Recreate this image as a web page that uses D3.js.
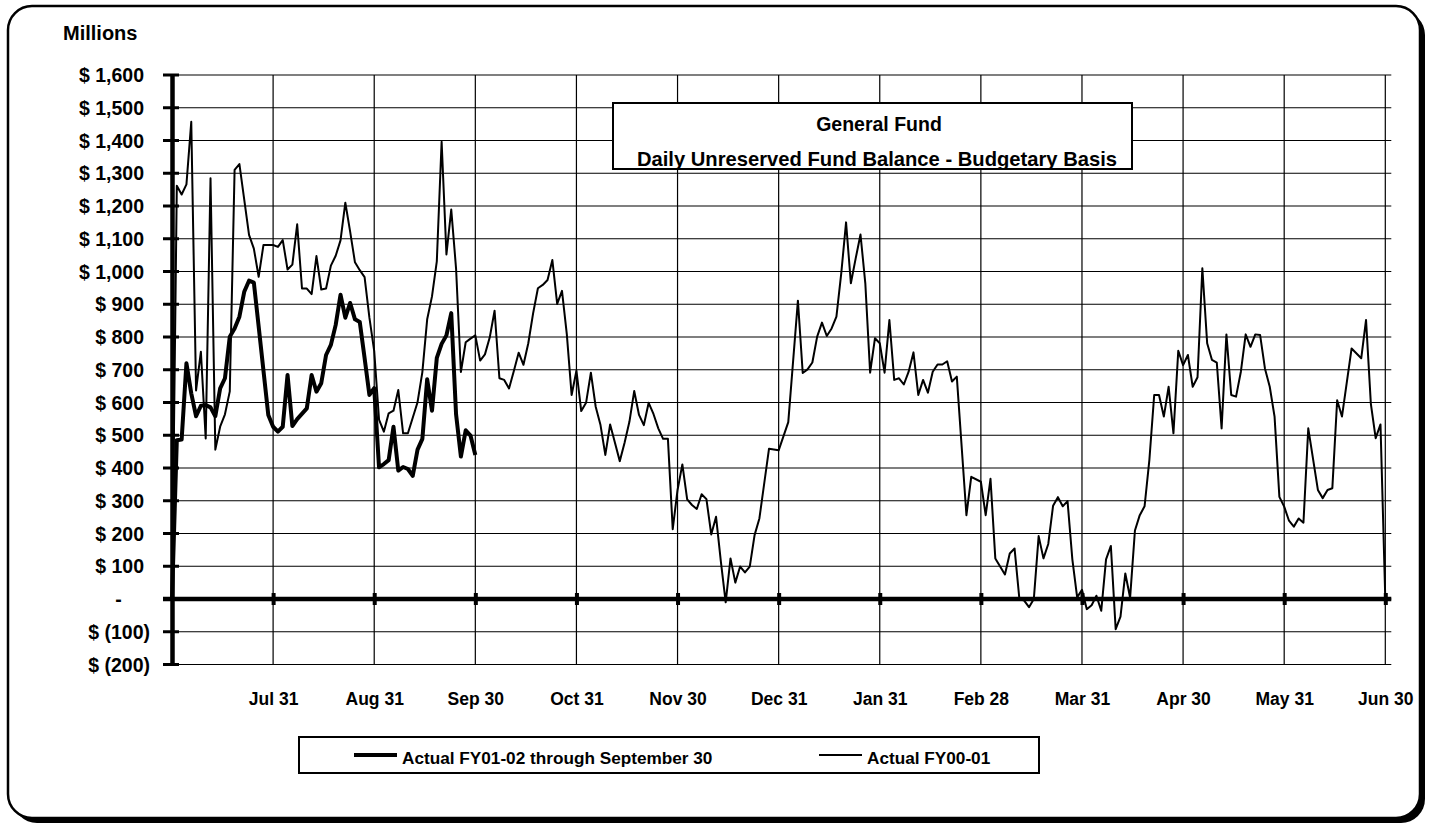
<!DOCTYPE html>
<html>
<head>
<meta charset="utf-8">
<script src="https://cdn.jsdelivr.net/npm/d3@7"></script>
<style>
  body { margin: 0; background: #fff; }
  text { font-family: Arial, "Liberation Sans", sans-serif; font-weight: bold; fill: #000; }
</style>
</head>
<body>
<svg id="chart"></svg>
<script>
// business-day index (0 .. 252) and balance in $ millions
const monthLabels = ['Jul 31', 'Aug 31', 'Sep 30', 'Oct 31', 'Nov 30', 'Dec 31',
                     'Jan 31', 'Feb 28', 'Mar 31', 'Apr 30', 'May 31', 'Jun 30'];
const daysPerTick = 21;
const yTicks = [1600, 1500, 1400, 1300, 1200, 1100, 1000, 900, 800, 700, 600,
                500, 400, 300, 200, 100, 0, -100, -200];

const fy0102Days = [0, 1, 2, 3, 4, 5, 6, 7, 8, 9, 10, 11, 12, 13, 14, 15, 16, 17, 18,
  20, 21, 22, 23, 24, 25, 26, 28, 29, 30, 31, 32, 33, 34, 35, 36, 37, 38, 39, 40,
  41, 42, 43, 44, 45, 46, 47, 48, 49, 50, 51, 52, 53, 54, 55, 56, 57, 58, 59, 60,
  61, 62, 63];
const fy0102Values = [0, 485, 487, 720, 628, 558, 590, 592, 585, 558, 643, 674, 801,
  826, 862, 938, 972, 966, 832, 562, 526, 511, 526, 684, 528, 549, 582, 684, 633,
  659, 745, 776, 837, 929, 859, 904, 854, 846, 736, 623, 644, 402, 412, 424, 526,
  392, 403, 397, 376, 456, 489, 671, 575, 736, 779, 805, 873, 564, 435, 515, 499, 440];

const fy0001Days = [0, 1, 2, 3, 4, 5, 6, 7, 8, 9, 10, 11, 12, 13, 14, 16, 17, 18, 19,
  21, 22, 23, 24, 25, 26, 27, 28, 29, 30, 31, 32, 33, 34, 35, 36, 37, 38, 39, 40,
  41, 42, 43, 44, 45, 46, 47, 48, 49, 51, 52, 53, 54, 55, 56, 57, 58, 59, 60, 61,
  62, 63, 64, 65, 66, 67, 68, 69, 70, 71, 72, 73, 74, 75, 76, 77, 78, 79, 80, 81,
  82, 83, 84, 85, 86, 87, 88, 89, 90, 91, 92, 93, 94, 95, 96, 97, 98, 99, 100, 101,
  102, 103, 104, 105, 106, 107, 108, 109, 110, 111, 112, 113, 114, 115, 116, 117,
  118, 119, 120, 121, 122, 124, 126, 128, 130, 131, 132, 133, 134, 135, 136, 137,
  138, 139, 140, 141, 142, 143, 144, 145, 146, 147, 148, 149, 150, 151, 152, 153,
  154, 155, 156, 157, 158, 159, 160, 161, 162, 163, 165, 166, 168, 169, 170, 171,
  173, 174, 175, 176, 177, 178, 179, 180, 181, 182, 183, 184, 185, 186, 187, 188,
  189, 190, 191, 192, 193, 194, 195, 196, 197, 198, 199, 200, 201, 202, 203, 204,
  205, 206, 207, 208, 209, 210, 211, 212, 213, 214, 215, 216, 217, 218, 219, 220,
  221, 222, 223, 224, 225, 226, 227, 228, 229, 230, 231, 232, 233, 234, 235, 236,
  238, 239, 240, 241, 242, 243, 245, 247, 248, 249, 250, 251, 252];
const fy0001Values = [0, 1262, 1235, 1266, 1457, 637, 755, 490, 1285, 456, 526, 564,
  634, 1310, 1328, 1112, 1070, 984, 1081, 1081, 1075, 1096, 1006, 1021, 1144, 948,
  948, 931, 1047, 945, 948, 1018, 1048, 1095, 1210, 1122, 1028, 1004, 983, 859, 757,
  548, 511, 567, 575, 638, 506, 506, 601, 693, 854, 924, 1031, 1396, 1052, 1189,
  1009, 693, 784, 795, 805, 728, 747, 799, 880, 674, 669, 643, 696, 752, 715, 781,
  872, 949, 959, 974, 1035, 901, 941, 809, 623, 697, 574, 599, 691, 587, 531, 440,
  533, 477, 421, 477, 541, 635, 562, 531, 599, 565, 521, 489, 489, 213, 333, 411,
  304, 287, 275, 320, 305, 197, 251, 114, -10, 124, 50, 99, 81, 99, 195, 246, 459,
  454, 540, 911, 690, 701, 722, 801, 844, 803, 826, 862, 994, 1150, 964, 1040, 1113,
  964, 691, 796, 781, 691, 852, 669, 674, 655, 694, 753, 623, 669, 630, 694, 716,
  716, 726, 664, 679, 256, 373, 358, 256, 367, 124, 75, 139, 154, 0, -5, -25, 0,
  192, 124, 168, 285, 311, 283, 299, 121, 5, 28, -31, -19, 10, -36, 121, 162, -92,
  -54, 78, 4, 209, 256, 283, 425, 623, 623, 557, 648, 506, 758, 714, 745, 648, 677,
  1010, 781, 730, 722, 521, 808, 623, 618, 694, 808, 770, 808, 806, 704, 648, 557,
  312, 282, 239, 221, 246, 233, 521, 333, 308, 333, 338, 607, 557, 765, 735, 852,
  596, 491, 533, 0];

const legendLabels = ['Actual FY01-02 through September 30', 'Actual FY00-01'];

const W = 1431, H = 827;
const plot = { left: 172, right: 1385.3, top: 75, bottom: 664.5, overhang: 6 };

const svg = d3.select('#chart')
    .attr('width', W)
    .attr('height', H);

// rounded frame with drop shadow
svg.append('rect')
    .attr('x', 13).attr('y', 11)
    .attr('width', 1412).attr('height', 812)
    .attr('rx', 24).attr('ry', 24)
    .attr('fill', '#000');
svg.append('rect')
    .attr('x', 8).attr('y', 6)
    .attr('width', 1412).attr('height', 812)
    .attr('rx', 24).attr('ry', 24)
    .attr('fill', '#fff')
    .attr('stroke', '#000')
    .attr('stroke-width', 2.5);

const xscale = d3.scaleLinear()
    .domain([0, monthLabels.length * daysPerTick])
    .range([plot.left, plot.right]);

const yscale = d3.scaleLinear()
    .domain([-200, 1600])
    .range([plot.bottom, plot.top]);

const tickDays = monthLabels.map((d, i) => (i + 1) * daysPerTick);

// grid
const grid = svg.append('g');
grid.selectAll('.hgrid').data(yTicks).enter().append('line')
    .attr('x1', plot.left)
    .attr('x2', plot.right + plot.overhang)
    .attr('y1', d => yscale(d))
    .attr('y2', d => yscale(d))
    .attr('stroke', '#000')
    .attr('stroke-width', 1.2);
grid.selectAll('.vgrid').data(tickDays).enter().append('line')
    .attr('x1', d => xscale(d))
    .attr('x2', d => xscale(d))
    .attr('y1', plot.top)
    .attr('y2', plot.bottom)
    .attr('stroke', '#000')
    .attr('stroke-width', 1.2);

// y axis
const yaxis = d3.axisLeft(yscale)
    .tickValues(yTicks)
    .tickSize(0)
    .tickFormat('');
svg.append('g')
    .attr('transform', `translate(${plot.left}, 0)`)
    .call(yaxis)
    .call(g => g.select('.domain').attr('stroke-width', 4.5));

svg.append('g').selectAll('line').data(yTicks).enter().append('line')
    .attr('x1', plot.left - 9)
    .attr('x2', plot.left + 7)
    .attr('y1', d => yscale(d))
    .attr('y2', d => yscale(d))
    .attr('stroke', '#000')
    .attr('stroke-width', 3);

const yfmt = d3.format(',');
svg.append('g').selectAll('text').data(yTicks).enter().append('text')
    .attr('x', d => d === 0 ? 118.5 : (d < 0 ? 150 : 144))
    .attr('y', d => yscale(d))
    .attr('dy', '0.36em')
    .attr('text-anchor', d => d === 0 ? 'middle' : 'end')
    .attr('font-size', '19.5px')
    .text(d => d === 0 ? '-' : (d < 0 ? `$ (${yfmt(-d)})` : `$ ${yfmt(d)}`));

svg.append('text')
    .attr('x', 63)
    .attr('y', 40)
    .attr('font-size', '20px')
    .text('Millions');

// x axis along zero
svg.append('line')
    .attr('x1', plot.left - 9)
    .attr('x2', plot.right + plot.overhang)
    .attr('y1', yscale(0))
    .attr('y2', yscale(0))
    .attr('stroke', '#000')
    .attr('stroke-width', 4.5);

const xaxis = d3.axisBottom(xscale)
    .tickValues(tickDays)
    .tickSize(0)
    .tickPadding(0)
    .tickFormat((d, i) => monthLabels[i]);
const xg = svg.append('g')
    .attr('transform', `translate(0, ${yscale(0)})`)
    .call(xaxis);
xg.select('.domain').remove();
xg.selectAll('.tick line').remove();
xg.selectAll('.tick').append('rect')
    .attr('x', -2).attr('y', -6)
    .attr('width', 4).attr('height', 12)
    .attr('fill', '#000');
xg.selectAll('.tick text')
    .attr('y', 106)
    .attr('dy', 0)
    .attr('font-size', '17.5px')
    .attr('font-family', 'Arial, "Liberation Sans", sans-serif')
    .attr('font-weight', 'bold')
    .attr('fill', '#000');

// series
const line = d3.line()
    .x(d => xscale(d[0]))
    .y(d => yscale(d[1]));

svg.append('path')
    .attr('d', line(d3.zip(fy0102Days, fy0102Values)))
    .attr('fill', 'none')
    .attr('stroke', '#000')
    .attr('stroke-width', 4)
    .attr('stroke-linejoin', 'round');

svg.append('path')
    .attr('d', line(d3.zip(fy0001Days, fy0001Values)))
    .attr('fill', 'none')
    .attr('stroke', '#000')
    .attr('stroke-width', 2)
    .attr('stroke-linejoin', 'round');

// title box
svg.append('rect')
    .attr('x', 613).attr('y', 103)
    .attr('width', 519).attr('height', 66)
    .attr('fill', '#fff')
    .attr('stroke', '#000')
    .attr('stroke-width', 2);
svg.append('text')
    .attr('x', 879).attr('y', 131)
    .attr('text-anchor', 'middle')
    .attr('font-size', '19.5px')
    .text('General Fund');
svg.append('text')
    .attr('x', 877).attr('y', 166)
    .attr('text-anchor', 'middle')
    .attr('font-size', '20.2px')
    .text('Daily Unreserved Fund Balance - Budgetary Basis');

// legend
svg.append('rect')
    .attr('x', 299).attr('y', 737)
    .attr('width', 740).attr('height', 36)
    .attr('fill', '#fff')
    .attr('stroke', '#000')
    .attr('stroke-width', 2);

const legendItems = [
    { label: legendLabels[0], x: 354, width: 4 },
    { label: legendLabels[1], x: 819, width: 2 }
];
const lg = svg.append('g').selectAll('g').data(legendItems).enter().append('g')
    .attr('transform', d => `translate(${d.x}, 755)`);
lg.append('line')
    .attr('x1', 0).attr('x2', 43)
    .attr('stroke', '#000')
    .attr('stroke-width', d => d.width);
lg.append('text')
    .attr('x', 48)
    .attr('y', 9)
    .attr('font-size', '17.2px')
    .text(d => d.label);
</script>
</body>
</html>
